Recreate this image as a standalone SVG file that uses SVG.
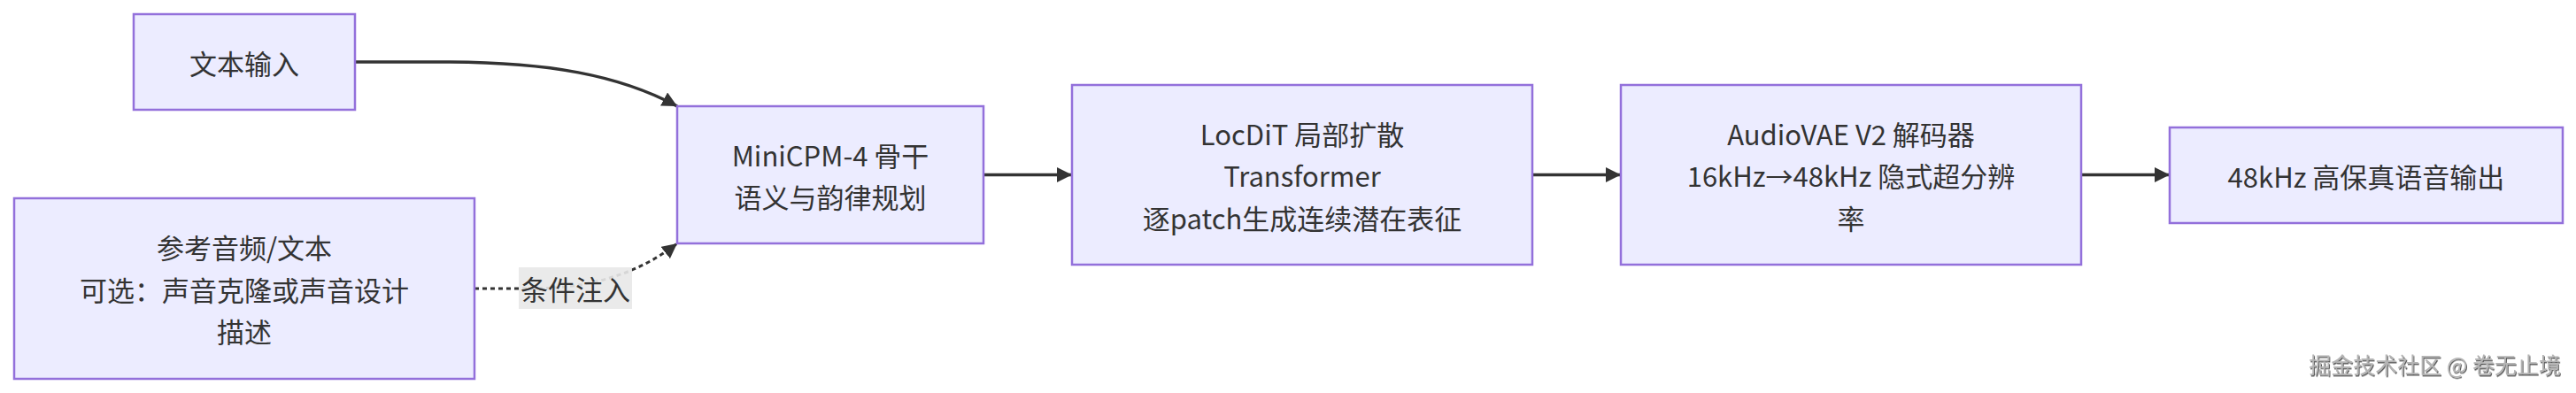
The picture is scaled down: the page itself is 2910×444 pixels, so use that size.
<svg xmlns="http://www.w3.org/2000/svg" width="2910" height="444" viewBox="0 0 2910 444">
<style>
.node rect{fill:#ECECFF;stroke:#9370DB;stroke-width:2.5}
.node text,.lbl text{font-family:"Noto Sans CJK SC","Noto Sans",sans-serif;font-size:31px;fill:#333;text-anchor:middle;dominant-baseline:central}
.edge{fill:none;stroke:#333;stroke-width:3.5}
.dotted{stroke-dasharray:5 4;stroke-width:3}
.wm{font-family:"Noto Sans CJK SC",sans-serif;font-size:25px;fill:#b4b4b4;text-anchor:end}
</style>
<defs>
<marker id="arr" viewBox="0 0 10 10" refX="10" refY="5" markerUnits="userSpaceOnUse" markerWidth="17" markerHeight="17" orient="auto">
<path d="M0,0 L10,5 L0,10 z" fill="#333"/>
</marker>
<filter id="sh" x="-5%" y="-20%" width="110%" height="150%">
<feDropShadow dx="1" dy="1.5" stdDeviation="0.6" flood-color="#333" flood-opacity="0.8"/>
</filter>
</defs>
<rect width="2910" height="444" fill="#fff"/>
<g id="connectors">
<path class="edge" d="M401,70 L500,70 C620,70 700,85 765,120" marker-end="url(#arr)"/>
<path class="edge dotted" d="M536,326 L600,326 Q700,326 765,275" marker-end="url(#arr)"/>
<path class="edge" d="M1111,197.5 L1211,197.5" marker-end="url(#arr)"/>
<path class="edge" d="M1731,197.5 L1831,197.5" marker-end="url(#arr)"/>
<path class="edge" d="M2351,197.5 L2451,197.5" marker-end="url(#arr)"/>
<g class="lbl" id="label-cond">
<rect x="586" y="302" width="128" height="47" fill="#e8e8e8" fill-opacity="0.9"/>
<text x="650" y="325.5">条件注入</text>
</g>
</g>
<g id="text-input" class="node">
<rect x="151" y="16" width="250" height="108"/>
<text x="276" y="70">文本输入</text>
</g>
<g id="ref-audio" class="node">
<rect x="16" y="224" width="520" height="204"/>
<text x="276" y="278.5">参考音频/文本</text>
<text x="276" y="326">可选：声音克隆或声音设计</text>
<text x="276" y="373.5">描述</text>
</g>
<g id="minicpm" class="node">
<rect x="765" y="120" width="346" height="155"/>
<text x="938" y="174">MiniCPM-4 骨干</text>
<text x="938" y="221.5">语义与韵律规划</text>
</g>
<g id="locdit" class="node">
<rect x="1211" y="96" width="520" height="203"/>
<text x="1471" y="150">LocDiT 局部扩散</text>
<text x="1471" y="197.5">Transformer</text>
<text x="1471" y="245">逐patch生成连续潜在表征</text>
</g>
<g id="audiovae" class="node">
<rect x="1831" y="96" width="520" height="203"/>
<text x="2091" y="150">AudioVAE V2 解码器</text>
<text x="2091" y="197.5">16kHz→48kHz 隐式超分辨</text>
<text x="2091" y="245">率</text>
</g>
<g id="output" class="node">
<rect x="2451" y="144" width="444" height="108"/>
<text x="2673" y="198">48kHz 高保真语音输出</text>
</g>
<text class="wm" x="2893" y="422" filter="url(#sh)">掘金技术社区 @ 卷无止境</text>
</svg>
